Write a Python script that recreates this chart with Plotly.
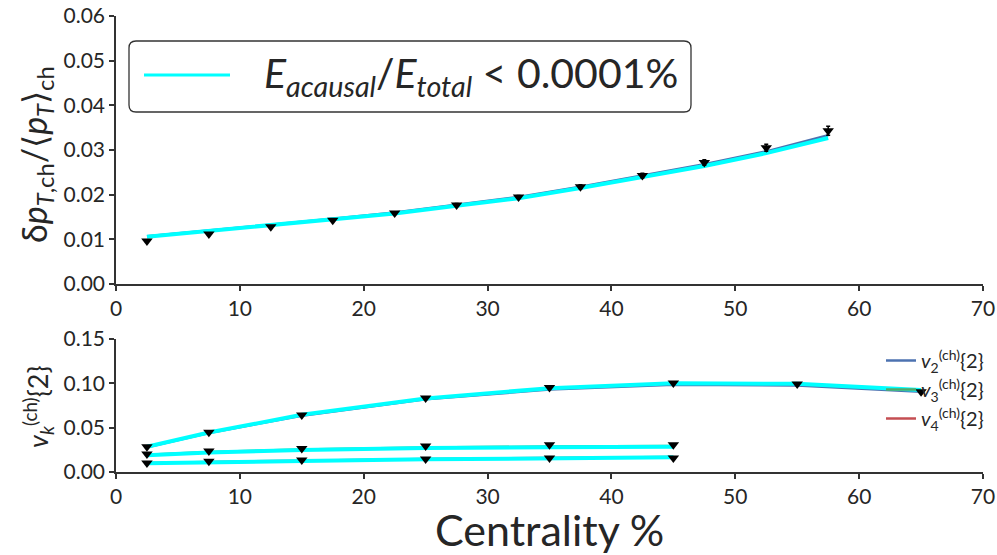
import plotly.graph_objects as go

# ---------------- data ----------------
cent_pt = [2.5, 7.5, 12.5, 17.5, 22.5, 27.5, 32.5, 37.5, 42.5, 47.5, 52.5, 57.5]
pt_data = [0.0096, 0.0112, 0.0128, 0.0143, 0.0159, 0.0177, 0.0195, 0.0218, 0.0243, 0.0272, 0.0305, 0.0343]
pt_err = [0.0002, 0.0002, 0.0002, 0.0002, 0.0002, 0.0003, 0.0003, 0.0004, 0.0005, 0.0006, 0.0008, 0.0010]
pt_hydro = [0.0106, 0.0119, 0.0131, 0.0145, 0.0158, 0.0175, 0.0192, 0.0215, 0.0239, 0.0264, 0.0293, 0.0327]
pt_hydro_ref = [0.0107, 0.0120, 0.0132, 0.0146, 0.0160, 0.0177, 0.0195, 0.0218, 0.0243, 0.0268, 0.0297, 0.0333]

cent_vn = [2.5, 7.5, 15, 25, 35, 45, 55, 65]
cent_v34 = [2.5, 7.5, 15, 25, 35, 45]
v2_data = [0.0285, 0.0449, 0.0644, 0.0835, 0.0954, 0.1003, 0.0992, 0.0906]
v3_data = [0.0202, 0.0236, 0.0266, 0.0292, 0.0307, 0.0307]
v4_data = [0.0101, 0.0120, 0.0135, 0.0146, 0.0157, 0.0157]

v2_hydro = [0.0285, 0.0445, 0.0645, 0.0830, 0.0945, 0.1000, 0.0995, 0.0925]
v3_hydro = [0.0190, 0.0221, 0.0247, 0.0270, 0.0280, 0.0285]
v4_hydro = [0.0098, 0.0105, 0.0123, 0.0143, 0.0157, 0.0165]
v2_ref = [0.0280, 0.0440, 0.0635, 0.0820, 0.0930, 0.0985, 0.0975, 0.0905]
v3_ref = [0.0195, 0.0226, 0.0253, 0.0276, 0.0287, 0.0292]
v4_ref = [0.0102, 0.0110, 0.0128, 0.0148, 0.0162, 0.0170]

x_ticks = [0, 10, 20, 30, 40, 50, 60, 70]

BLUE, GREEN, RED, CYAN = "#4c72b0", "#55a868", "#c44e52", "#00ffff"
TXT = "#262626"
FONT = "Lato"

fig = go.Figure()

# ---------------- top panel ----------------
fig.add_trace(go.Scatter(x=cent_pt, y=pt_hydro_ref, mode="lines", line=dict(color=BLUE, width=2.5),
                         showlegend=False, xaxis="x", yaxis="y"))
fig.add_trace(go.Scatter(x=cent_pt, y=pt_hydro, mode="lines", line=dict(color=CYAN, width=4),
                         showlegend=False, xaxis="x", yaxis="y"))
fig.add_trace(go.Scatter(x=cent_pt, y=pt_data, mode="markers",
                         marker=dict(symbol="triangle-down", size=10, color="black"),
                         error_y=dict(type="data", array=pt_err, color="black", thickness=1.5, width=2),
                         showlegend=False, xaxis="x", yaxis="y"))

# ---------------- bottom panel ----------------
for xs, ys, col, name in [(cent_vn, v2_ref, BLUE, "<i>v</i><sub>2</sub><sup>(ch)</sup>{2}"),
                          (cent_v34, v3_ref, GREEN, "<i>v</i><sub>3</sub><sup>(ch)</sup>{2}"),
                          (cent_v34, v4_ref, RED, "<i>v</i><sub>4</sub><sup>(ch)</sup>{2}")]:
    fig.add_trace(go.Scatter(x=xs, y=ys, mode="lines", line=dict(color=col, width=2.5), name=name,
                             legend="legend2", xaxis="x2", yaxis="y2"))
for xs, ys in [(cent_vn, v2_hydro), (cent_v34, v3_hydro), (cent_v34, v4_hydro)]:
    fig.add_trace(go.Scatter(x=xs, y=ys, mode="lines", line=dict(color=CYAN, width=4),
                             showlegend=False, xaxis="x2", yaxis="y2"))
for xs, ys in [(cent_vn, v2_data), (cent_v34, v3_data), (cent_v34, v4_data)]:
    fig.add_trace(go.Scatter(x=xs, y=ys, mode="markers",
                             marker=dict(symbol="triangle-down", size=10, color="black"),
                             showlegend=False, xaxis="x2", yaxis="y2"))

axis_common = dict(showline=True, linecolor="#333333", linewidth=1.5, ticks="outside", ticklen=5,
                   tickwidth=1.5, tickcolor="#333333", showgrid=False, zeroline=False,
                   tickfont=dict(family=FONT, size=21, color=TXT))

W, H = 997, 555
ML, MR, MT, MB = 116, 14, 16, 83
PW, PH = W - ML - MR, H - MT - MB


def px(xp):
    return (xp - ML) / PW


def py(yp):
    return (H - MB - yp) / PH


fig.update_layout(
    width=W, height=H,
    margin=dict(l=ML, r=MR, t=MT, b=MB, autoexpand=False),
    paper_bgcolor="white", plot_bgcolor="white",
    font=dict(family=FONT, color=TXT),
    xaxis=dict(domain=[0, 1], range=[0, 70], tickvals=x_ticks, anchor="y", **axis_common),
    yaxis=dict(domain=[py(284), 1], range=[0, 0.06], dtick=0.01, tickformat=".2f", anchor="x", **axis_common),
    xaxis2=dict(domain=[0, 1], range=[0, 70], tickvals=x_ticks, anchor="y2", **axis_common),
    yaxis2=dict(domain=[0, py(339)], range=[0, 0.15], dtick=0.05, tickformat=".2f", anchor="x2", **axis_common),
    legend2=dict(x=px(881), y=py(341), xanchor="left", yanchor="top", bgcolor="rgba(0,0,0,0)",
                 font=dict(family=FONT, size=20, color=TXT), itemwidth=30, tracegroupgap=0),
    showlegend=True,
)

# rounded legend box for the top panel
x0, x1, y0, y1 = px(129), px(691), py(112), py(41)
rx, ry = 7 / PW, 7 / PH
path = (f"M{x0+rx},{y0} L{x1-rx},{y0} Q{x1},{y0} {x1},{y0+ry} L{x1},{y1-ry} Q{x1},{y1} {x1-rx},{y1} "
        f"L{x0+rx},{y1} Q{x0},{y1} {x0},{y1-ry} L{x0},{y0+ry} Q{x0},{y0} {x0+rx},{y0} Z")
fig.add_shape(type="path", path=path, xref="paper", yref="paper", line=dict(color="#333333", width=1.3),
              fillcolor="rgba(255,255,255,0.8)", layer="above")
fig.add_shape(type="line", xref="paper", yref="paper", x0=px(144), x1=px(230), y0=py(75), y1=py(75),
              line=dict(color=CYAN, width=3), layer="above")
fig.add_annotation(xref="paper", yref="paper", x=px(262), y=py(76), xanchor="left", yanchor="middle",
                   showarrow=False, text="<i>E<sub>acausal</sub></i>/<i>E<sub>total</sub></i> &lt; 0.0001%",
                   font=dict(family=FONT, size=41, color=TXT))

# axis titles
fig.add_annotation(xref="paper", yref="paper", x=px(36), y=py(155), xanchor="center", yanchor="middle",
                   textangle=-90, showarrow=False,
                   text="δ<i>p</i><sub><i>T</i>,ch</sub>/⟨<i>p</i><sub><i>T</i></sub>⟩<sub>ch</sub>",
                   font=dict(family=FONT, size=34, color=TXT))
fig.add_annotation(xref="paper", yref="paper", x=px(38), y=py(407), xanchor="center", yanchor="middle",
                   textangle=-90, showarrow=False,
                   text="<i>v</i><sub><i>k</i></sub><sup>(ch)</sup>{2}",
                   font=dict(family=FONT, size=27, color=TXT))
fig.add_annotation(xref="paper", yref="paper", x=px(549), y=py(529), xanchor="center", yanchor="middle",
                   showarrow=False, text="Centrality %", font=dict(family=FONT, size=43, color=TXT))

fig.write_html("out.html")
